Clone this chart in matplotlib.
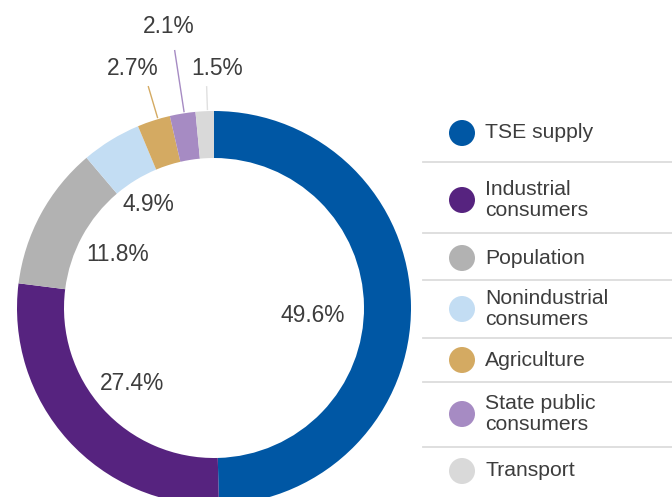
import numpy as np
import matplotlib
matplotlib.use("Agg")
import matplotlib.pyplot as plt
from matplotlib.patches import Circle

# ---- data ----
categories = ["TSE supply", "Industrial\nconsumers", "Population",
              "Nonindustrial\nconsumers", "Agriculture",
              "State public\nconsumers", "Transport"]
values = [49.6, 27.4, 11.8, 4.9, 2.7, 2.1, 1.5]
value_labels = ["49.6%", "27.4%", "11.8%", "4.9%", "2.7%", "2.1%", "1.5%"]

# ---- styles / layout ----
colors = ["#0057A4", "#56237F", "#B2B2B2", "#C3DDF3", "#D4AA62", "#A68BC3", "#D9D9D9"]
line_colors = ["#0057A4", "#56237F", "#B2B2B2", "#C3DDF3", "#D4AA62", "#A68BC3", "#E0E0E0"]
text_color = "#3d3d3d"
W, H = 672, 497
cx, cy = 214, H - 308
R_out, ring = 197, 47
# label placement: (radius px, angle offset deg)
label_pos = [(98.8, -5.1), (110.8, 0.5), (109.7, -0.5), (122.9, 0.7),
             (253.2, 1.0), (284.9, 0.0), (239.7, -3.5)]
# leader lines: (end radius, angle offset) or None
leaders = [None, None, None, None, (231.5, -1.3), (261, -0.5), (222, -0.8)]
legend_y_px = [133, 200, 258, 309, 360, 414, 471]
sep_y_px = [162, 233, 280, 338, 382, 447]

plt.rcParams['font.family'] = ['Liberation Sans', 'DejaVu Sans']

fig = plt.figure(figsize=(W / 100, H / 100), dpi=100)
ax = fig.add_axes([0, 0, 1, 1])
ax.set_xlim(0, W)
ax.set_ylim(0, H)
ax.set_aspect('equal')
ax.axis('off')

wedges, _ = ax.pie(values, colors=colors, startangle=90, counterclock=False,
                   center=(cx, cy), radius=R_out,
                   wedgeprops=dict(width=ring, linewidth=0))
ax.set_xlim(0, W)
ax.set_ylim(0, H)

for w, lab, (r, dth), ld, lc in zip(wedges, value_labels, label_pos, leaders, line_colors):
    mid = (w.theta1 + w.theta2) / 2.0
    a = np.deg2rad(mid + dth)
    ax.text(cx + r * np.cos(a), cy + r * np.sin(a), lab, ha='center', va='center',
            fontsize=16.4, color=text_color)
    if ld is not None:
        r2, d2 = ld
        b = np.deg2rad(mid + d2)
        ax.plot([cx + (R_out + 1) * np.cos(b), cx + r2 * np.cos(b)],
                [cy + (R_out + 1) * np.sin(b), cy + r2 * np.sin(b)],
                color=lc, lw=1.0, solid_capstyle='butt')

# legend
for cat, col, ypx in zip(categories, colors, legend_y_px):
    y = H - ypx
    ax.add_patch(Circle((462, y), 13, facecolor=col, edgecolor='none'))
    ax.text(485, y, cat, ha='left', va='center', fontsize=15.2,
            color=text_color, linespacing=1.08)
for ypx in sep_y_px:
    ax.plot([423, W], [H - ypx, H - ypx], color="#DCDCDC", lw=1.3)

fig.savefig("out.png", dpi=100)
